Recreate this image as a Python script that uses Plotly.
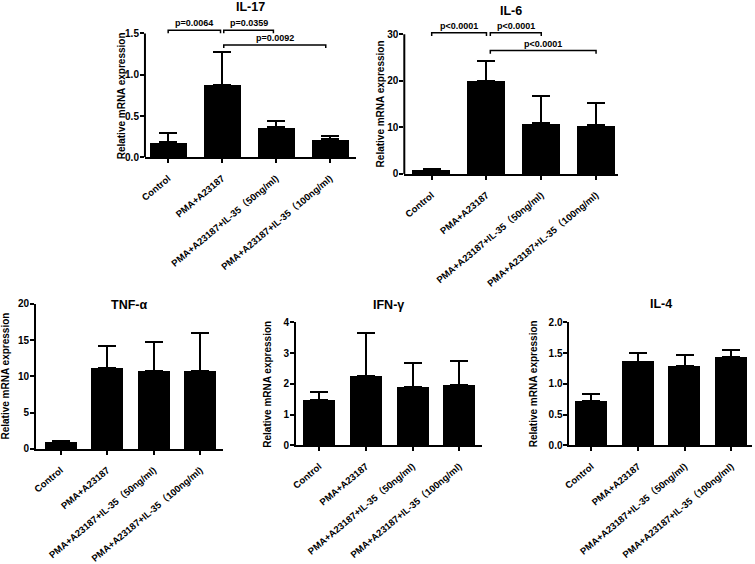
import plotly.graph_objects as go

# ── DATA ─────────────────────────────────────
categories = ["Control", "PMA+A23187",
              "PMA+A23187+IL-35（50ng/ml)", "PMA+A23187+IL-35（100ng/ml)"]

il17_mean = [0.18, 0.88, 0.365, 0.22]
il17_sd = [0.11, 0.39, 0.07, 0.04]
il6_mean = [0.86, 20.0, 10.9, 10.5]
il6_sd = [0.2, 4.3, 5.8, 4.7]
tnf_mean = [0.95, 11.2, 10.8, 10.7]
tnf_sd = [0.2, 3.05, 3.9, 5.35]
ifn_mean = [1.47, 2.26, 1.90, 1.96]
ifn_sd = [0.27, 1.38, 0.78, 0.78]
il4_mean = [0.72, 1.36, 1.29, 1.43]
il4_sd = [0.12, 0.14, 0.18, 0.12]

# significance brackets: start, end, height, label
il17_sig_x0 = [0, 1.03, 1.03]
il17_sig_x1 = [0.97, 1.95, 2.92]
il17_sig_y = [1.54, 1.54, 1.36]
il17_sig_p = ["p=0.0064", "p=0.0359", "p=0.0092"]
il6_sig_x0 = [0, 1.07, 1.07]
il6_sig_x1 = [1.0, 2.0, 3.0]
il6_sig_y = [30.3, 30.3, 26.5]
il6_sig_p = ["p<0.0001", "p<0.0001", "p<0.0001"]

FONT = "Arial, Liberation Sans, Noto Sans CJK SC, sans-serif"
YTITLE = "Relative mRNA expression"

# ── PANEL LAYOUT ─────────────────────────────
panels = [
    dict(title="IL-17", mean=il17_mean, sd=il17_sd,
         xdom=[0.192, 0.4715], ydom=[0.7211, 0.9582],
         xrange=[-0.43, 3.48], yrange=[0, 1.62], ytop=1.5, dtick=0.5, fmt=".1f",
         title_y=0.988, ytitle_dx=-24,
         sig=(il17_sig_x0, il17_sig_x1, il17_sig_y, il17_sig_p), drop=0.036),
    dict(title="IL-6", mean=il6_mean, sd=il6_sd,
         xdom=[0.5355, 0.8185], ydom=[0.6915, 0.960],
         xrange=[-0.5, 3.4], yrange=[0, 32.5], ytop=30, dtick=10, fmt="d",
         title_y=0.981, ytitle_dx=-24,
         sig=(il6_sig_x0, il6_sig_x1, il6_sig_y, il6_sig_p), drop=0.7),
    dict(title="TNF-α", mean=tnf_mean, sd=tnf_sd,
         xdom=[0.0477, 0.295], ydom=[0.2039, 0.461],
         xrange=[-0.53, 3.48], yrange=[0, 20], ytop=20, dtick=5, fmt="d",
         title_y=0.459, ytitle_dx=-31, sig=None),
    dict(title="IFN-γ", mean=ifn_mean, sd=ifn_sd,
         xdom=[0.392, 0.638], ydom=[0.2105, 0.4286],
         xrange=[-0.5, 3.48], yrange=[0, 4], ytop=4, dtick=1, fmt="d",
         title_y=0.459, ytitle_dx=-28, sig=None),
    dict(title="IL-4", mean=il4_mean, sd=il4_sd,
         xdom=[0.7543, 0.996], ydom=[0.2105, 0.4286],
         xrange=[-0.47, 3.44], yrange=[0, 2], ytop=2, dtick=0.5, fmt=".1f",
         title_y=0.461, ytitle_dx=-36, sig=None),
]

fig = go.Figure()
xpos = list(range(len(categories)))

for i, p in enumerate(panels):
    n = "" if i == 0 else str(i + 1)
    xa, ya = "x" + n, "y" + n
    yticks = [k * p["dtick"] for k in range(int(round(p["ytop"] / p["dtick"])) + 1)]
    extended = p["yrange"][1] > p["ytop"]

    fig.add_trace(go.Bar(
        x=xpos, y=p["mean"], xaxis=xa, yaxis=ya, width=0.69,
        marker=dict(color="black", line=dict(width=0)),
        error_y=dict(type="data", array=p["sd"], arrayminus=[0] * 4,
                     symmetric=False, color="black", thickness=2, width=9),
    ))

    fig.update_layout({
        "xaxis" + n: dict(
            domain=p["xdom"], anchor=ya, range=p["xrange"], automargin=False,
            tickvals=xpos, ticktext=categories, tickangle=-40, ticklabelstandoff=6,
            tickfont=dict(family=FONT, size=9.5, color="black", weight="bold"),
            showline=True, linecolor="black", linewidth=2,
            ticks="outside", ticklen=4, tickwidth=1.5, tickcolor="black",
            showgrid=False, zeroline=False,
        ),
        "yaxis" + n: dict(
            domain=p["ydom"], anchor=xa, range=p["yrange"], automargin=False,
            tickvals=yticks, tickformat=p["fmt"], ticklabelstandoff=-1,
            tickfont=dict(family=FONT, size=10, color="black", weight="bold"),
            showline=not extended, linecolor="black", linewidth=2,
            ticks="outside", ticklen=4, tickwidth=2, tickcolor="black",
            showgrid=False, zeroline=False,
        ),
    })
    if extended:
        # y axis line stops at the top tick, brackets sit above it
        fig.add_shape(type="line", xref=xa + " domain", yref=ya,
                      x0=0, x1=0, y0=0, y1=p["ytop"],
                      line=dict(color="black", width=2))

    # y axis title, centred on the drawn axis line
    fig.add_annotation(text=f"<b>{YTITLE}</b>", xref=xa + " domain", yref=ya,
                       x=0, y=p["ytop"] / 2, xshift=p["ytitle_dx"], textangle=-90,
                       xanchor="center", yanchor="middle", showarrow=False,
                       font=dict(family=FONT, size=10, color="black"))

    fig.add_annotation(text=f"<b>{p['title']}</b>", xref=xa + " domain", yref="paper",
                       x=0.5, y=p["title_y"], showarrow=False, yanchor="middle",
                       font=dict(family=FONT, size=12.5, color="black"))

    if p["sig"]:
        x0s, x1s, ys, labels = p["sig"]
        for a, b, yv, lab in zip(x0s, x1s, ys, labels):
            fig.add_trace(go.Scatter(
                x=[a, a, b, b], y=[yv - p["drop"], yv, yv, yv - p["drop"]],
                xaxis=xa, yaxis=ya, mode="lines", hoverinfo="skip",
                line=dict(color="black", width=1.5),
            ))
            fig.add_annotation(text=f"<b>{lab}</b>", xref=xa, yref=ya,
                               x=(a + b) / 2, y=yv, yanchor="bottom",
                               showarrow=False,
                               font=dict(family=FONT, size=9, color="black"))

fig.update_layout(
    width=755, height=564, margin=dict(l=0, r=0, t=0, b=0),
    plot_bgcolor="white", paper_bgcolor="white",
    showlegend=False, bargap=0,
)

# page body has a default 8px margin; drop it so the figure fills the window
fig.write_html("out.html", config={"displayModeBar": False},
               post_script="document.body.style.margin='0';")
